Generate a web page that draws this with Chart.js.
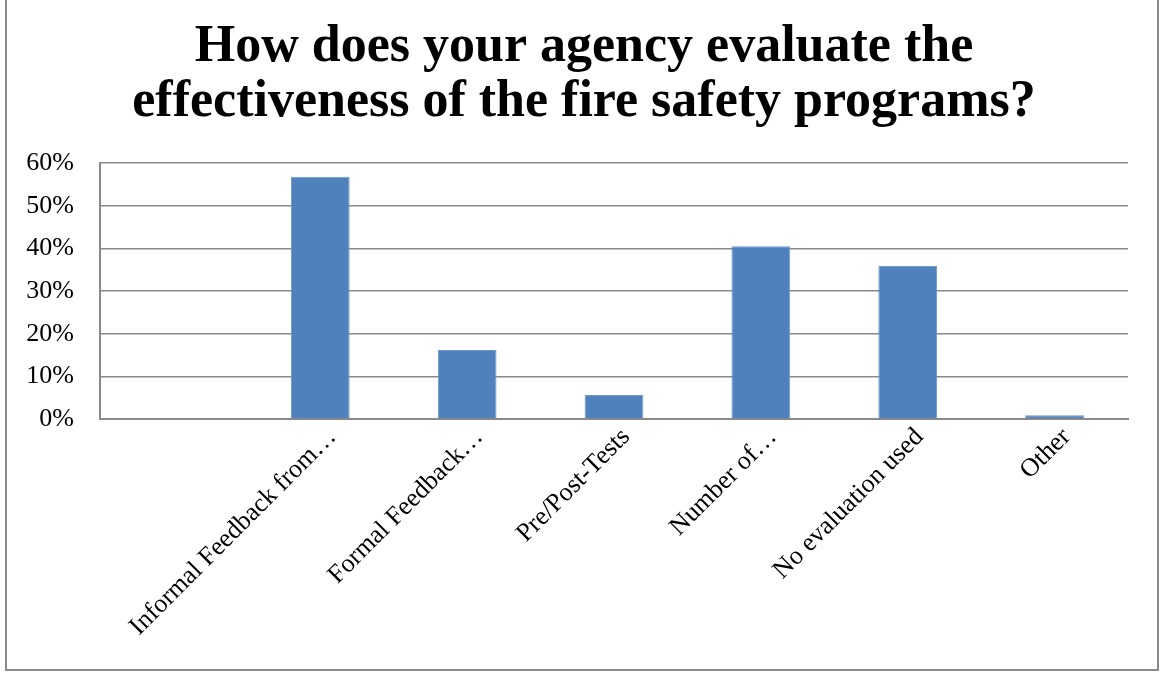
<!DOCTYPE html>
<html>
<head>
<meta charset="utf-8">
<script src="https://cdn.jsdelivr.net/npm/chart.js@4.4.1/dist/chart.umd.min.js"></script>
<style>
  html, body { margin: 0; padding: 0; background: #fff; }
  #wrap { position: relative; width: 1160px; height: 677px; }
  #frame {
    position: absolute; left: 5px; top: -4px; width: 1150px; height: 671px;
    border: 2px solid #8a8a8a; pointer-events: none;
  }
</style>
</head>
<body>
<div id="wrap">
  <canvas id="evalChart" width="1160" height="677"></canvas>
  <div id="frame"></div>
</div>
<script>
  const titleLines = ['How does your agency evaluate the', 'effectiveness of the fire safety programs?'];
  const categories = ['', 'Informal Feedback from…', 'Formal Feedback…', 'Pre/Post-Tests', 'Number of…', 'No evaluation used', 'Other'];
  const shares = [null, 56.8, 16.2, 5.6, 40.5, 35.9, 0.9];
  const yTicks = [0, 10, 20, 30, 40, 50, 60];

  const serif = "'Liberation Serif', 'Times New Roman', serif";

  // the original title sits a bit right of the canvas centre
  const nudgeTitle = {
    id: 'nudgeTitle',
    afterLayout(chart) {
      const t = chart.titleBlock;
      if (t) { t.left += 20; t.right += 20; }
    }
  };

  new Chart(document.getElementById('evalChart'), {
    type: 'bar',
    data: {
      labels: categories,
      datasets: [{
        data: shares,
        backgroundColor: '#4f81bd',
        borderColor: '#6f97c9',
        borderWidth: { top: 1, left: 1, right: 1, bottom: 0 },
        barPercentage: 0.4,
        categoryPercentage: 1
      }]
    },
    plugins: [nudgeTitle],
    options: {
      responsive: false,
      animation: false,
      layout: { padding: { left: 0, right: 32, top: 0, bottom: 0 } },
      plugins: {
        legend: { display: false },
        tooltip: { enabled: false },
        title: {
          display: true,
          text: titleLines,
          color: '#000',
          font: { family: serif, size: 52, weight: 'bold', lineHeight: 1.04 },
          padding: { top: 21, bottom: 34 }
        }
      },
      scales: {
        x: {
          grid: { display: false },
          border: { color: '#8a8a8a', width: 2 },
          ticks: {
            color: '#000',
            font: { family: serif, size: 26 },
            maxRotation: 45,
            minRotation: 45,
            autoSkip: false,
            labelOffset: 12,
            padding: -5
          },
          afterFit: function(axis) { axis.height = 258; }
        },
        y: {
          min: 0,
          max: 60,
          afterBuildTicks: function(axis) {
            axis.ticks = yTicks.map(v => ({ value: v }));
          },
          grid: { color: '#8a8a8a', lineWidth: 1.5, drawTicks: false },
          border: { color: '#8a8a8a', width: 2 },
          ticks: {
            color: '#000',
            font: { family: serif, size: 26 },
            padding: 26,
            callback: function(value) { return value + '%'; }
          },
          afterFit: function(axis) { axis.width = 100; }
        }
      }
    }
  });
</script>
</body>
</html>
